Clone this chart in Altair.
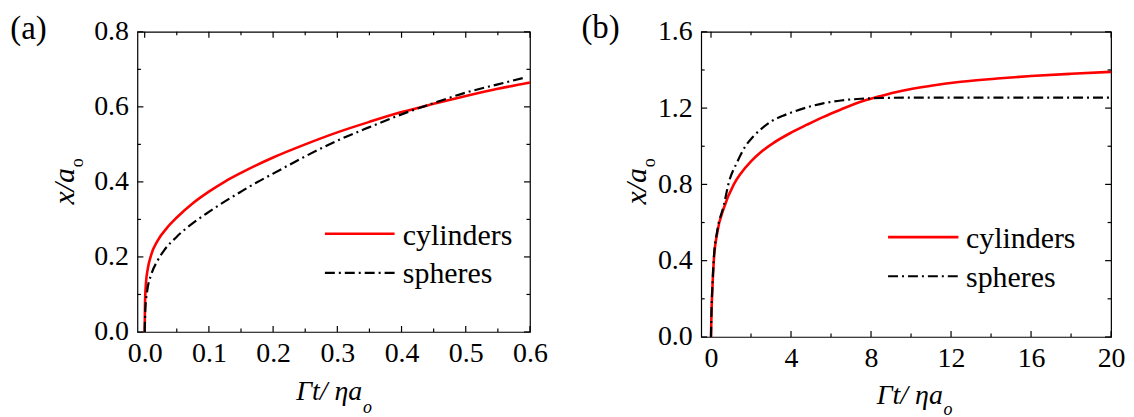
import altair as alt
import pandas as pd

# ---------------- data ----------------
# Panel (a)
a_cyl_x = [0, 0.0005, 0.002, 0.005, 0.01, 0.02, 0.035, 0.05, 0.075, 0.1, 0.125, 0.15, 0.2, 0.25, 0.3, 0.35, 0.4, 0.45, 0.5, 0.55, 0.6]
a_cyl_y = [0, 0.075, 0.13, 0.17, 0.205, 0.243, 0.278, 0.305, 0.343, 0.374, 0.401, 0.424, 0.465, 0.5, 0.532, 0.56, 0.586, 0.608, 0.629, 0.648, 0.665]
a_sph_x = [0, 0.001, 0.004, 0.01, 0.02, 0.03, 0.05, 0.075, 0.1, 0.125, 0.15, 0.175, 0.2, 0.25, 0.3, 0.35, 0.4, 0.45, 0.5, 0.55, 0.59]
a_sph_y = [0, 0.06, 0.11, 0.152, 0.19, 0.217, 0.254, 0.29, 0.32, 0.348, 0.374, 0.399, 0.422, 0.468, 0.51, 0.546, 0.58, 0.61, 0.638, 0.66, 0.677]

# Panel (b)
b_cyl_x = [0, 0.03, 0.06, 0.14, 0.31, 0.64, 1.14, 1.5, 2.0, 2.5, 3.13, 4.0, 4.8, 5.6, 6.5, 7.6, 8.5, 9.5, 11, 12.5, 14.3, 16, 18, 20]
b_cyl_y = [0, 0.15, 0.23, 0.40, 0.545, 0.675, 0.80, 0.859, 0.921, 0.970, 1.018, 1.071, 1.113, 1.153, 1.193, 1.237, 1.264, 1.29, 1.317, 1.338, 1.355, 1.368, 1.38, 1.39]
b_sph_x = [0, 0.03, 0.06, 0.14, 0.31, 0.64, 0.89, 1.3, 1.72, 2.1, 2.5, 3.0, 3.6, 4.1, 5.0, 5.6, 6.5, 7.5, 8.5, 10, 12, 14, 16, 18, 20]
b_sph_y = [0, 0.16, 0.24, 0.41, 0.555, 0.69, 0.81, 0.915, 1.0, 1.05, 1.09, 1.13, 1.16, 1.18, 1.21, 1.225, 1.24, 1.249, 1.253, 1.255, 1.255, 1.255, 1.255, 1.255, 1.255]

series_names = ["cylinders", "spheres"]

# ticks
a_x_major = [0.0, 0.1, 0.2, 0.3, 0.4, 0.5, 0.6]
a_x_minor = [0.05, 0.15, 0.25, 0.35, 0.45, 0.55]
a_y_major = [0.0, 0.2, 0.4, 0.6, 0.8]
a_y_minor = [0.1, 0.3, 0.5, 0.7]
b_x_major = [0, 4, 8, 12, 16, 20]
b_x_minor = [2, 6, 10, 14, 18]
b_y_major = [0.0, 0.4, 0.8, 1.2, 1.6]
b_y_minor = [0.2, 0.6, 1.0, 1.4]

SERIF = "Liberation Serif"
one = alt.Data(values=[{"k": 1}])


def txt(s, x, y, size, align="left", italic=False, angle=0):
    kw = dict(font=SERIF, fontSize=size, align=align, baseline="alphabetic", color="black")
    if italic:
        kw["fontStyle"] = "italic"
    if angle:
        kw["angle"] = angle
    return alt.Chart(one).mark_text(**kw).encode(
        x=alt.value(x), y=alt.value(y), text=alt.value(s))


def hrule(x1, x2, y, color, width, dash=None):
    kw = dict(color=color, strokeWidth=width)
    if dash:
        kw["strokeDash"] = dash
    return alt.Chart(one).mark_rule(**kw).encode(
        x=alt.value(x1), x2=alt.value(x2), y=alt.value(y))


def panel(cx, cy, sx, sy, xdom, ydom, xmaj, xmin, ymaj, ymin, xfmt, W, H, P):
    xs = alt.Scale(domain=xdom, nice=False, zero=False)
    ys = alt.Scale(domain=ydom, nice=False, zero=False)
    axis_common = dict(title=None, ticks=False, tickSize=0, domain=False, grid=False,
                       labelFont=SERIF, labelFontSize=28, labelColor="black",
                       labelFlush=False, labelOverlap=False)
    xax = alt.Axis(values=xmaj, format=xfmt, labelPadding=8, **axis_common)
    yax = alt.Axis(values=ymaj, format=".1f", labelPadding=9, **axis_common)

    def X(f):
        return alt.X(f, scale=xs, axis=xax)

    def Y(f):
        return alt.Y(f, scale=ys, axis=yax)

    cyl = alt.Chart(pd.DataFrame({"x": cx, "y": cy})).mark_line(
        color="#ff0000", strokeWidth=2.6, interpolate="monotone").encode(x=X("x:Q"), y=Y("y:Q"))
    sph = alt.Chart(pd.DataFrame({"x": sx, "y": sy})).mark_line(
        color="black", strokeWidth=2.2, strokeDash=[10, 4, 2, 4], interpolate="monotone").encode(
        x=X("x:Q"), y=Y("y:Q"))
    layers = [cyl, sph]
    for vals, ln in ((xmaj, 6), (xmin, 3.5)):
        d = pd.DataFrame({"x": vals})
        layers.append(alt.Chart(d).mark_rule(color="black", strokeWidth=1.2).encode(
            x=X("x:Q"), y=alt.value(H), y2=alt.value(H - ln)))
        layers.append(alt.Chart(d).mark_rule(color="black", strokeWidth=1.2).encode(
            x=X("x:Q"), y=alt.value(0), y2=alt.value(ln)))
    for vals, ln in ((ymaj, 6), (ymin, 3.5)):
        d = pd.DataFrame({"y": vals})
        layers.append(alt.Chart(d).mark_rule(color="black", strokeWidth=1.2).encode(
            y=Y("y:Q"), x=alt.value(0), x2=alt.value(ln)))
        layers.append(alt.Chart(d).mark_rule(color="black", strokeWidth=1.2).encode(
            y=Y("y:Q"), x=alt.value(W), x2=alt.value(W - ln)))
    # legend
    layers += [
        hrule(P["lx1"], P["lx2"], P["ly1"], "#ff0000", 2.6),
        hrule(P["lx1"], P["lx2"], P["ly2"], "black", 2.2, [10, 4, 2, 4]),
        txt(series_names[0], P["tx"], P["ty1"], 30),
        txt(series_names[1], P["tx"], P["ty2"], 30),
        # panel label
        txt(P["label"], P["labx"], P["laby"], 33),
        # x title
        txt("\u0393t/ \u03b7a", P["xtx"], P["xty"], 28, align="right", italic=True),
        txt("o", P["xtx"] + 0.8, P["xsy"], 18, italic=True),
        # y title
        txt("x/a", P["ytx"], P["yty"], 30, italic=True, angle=270),
        txt("o", P["ysx"], P["ysy"], 18, angle=270),
    ]
    if P.get("anchor"):
        ax, ay = P["anchor"]
        layers.append(alt.Chart(one).mark_rule(opacity=0, strokeWidth=0).encode(
            x=alt.value(ax), x2=alt.value(ax), y=alt.value(ay), y2=alt.value(ay)))
    return alt.layer(*layers).properties(width=W, height=H)


Wa, Ha = 394.3, 301.5
Wb, Hb = 411.7, 306.5

pa = panel(a_cyl_x, a_cyl_y, a_sph_x, a_sph_y, [-0.0113, 0.6], [0, 0.8],
           a_x_major, a_x_minor, a_y_major, a_y_minor, ".1f", Wa, Ha,
           dict(lx1=188.3, lx2=258.3, ly1=202.8, ly2=242.2, tx=266.6, ty1=214.5, ty2=252.5,
                label="(a)", labx=-127.7, laby=7.5,
                xtx=225.8, xty=369.5, xsy=382.5,
                ytx=-63.7, yty=173.5, ysx=-54.7, ysy=136.0,
                anchor=(-128.7, -21.5)))

pb = panel(b_cyl_x, b_cyl_y, b_sph_x, b_sph_y, [-0.49, 20], [0, 1.6],
           b_x_major, b_x_minor, b_y_major, b_y_minor, "d", Wb, Hb,
           dict(lx1=187.7, lx2=258.4, ly1=206.2, ly2=245.5, tx=266.0, ty1=217.5, ty2=256.0,
                label="(b)", labx=-120.3, laby=6.5,
                xtx=242.7, xty=373.5, xsy=384.5,
                ytx=-55.3, yty=173.5, ysx=-46.3, ysy=136.0))

chart = alt.hconcat(pa, pb, spacing=171.3, bounds="flush").properties(padding=0).configure_view(
    stroke="black", strokeWidth=1.2)

chart.save("out.html", embed_options={"renderer": "svg", "actions": False})
